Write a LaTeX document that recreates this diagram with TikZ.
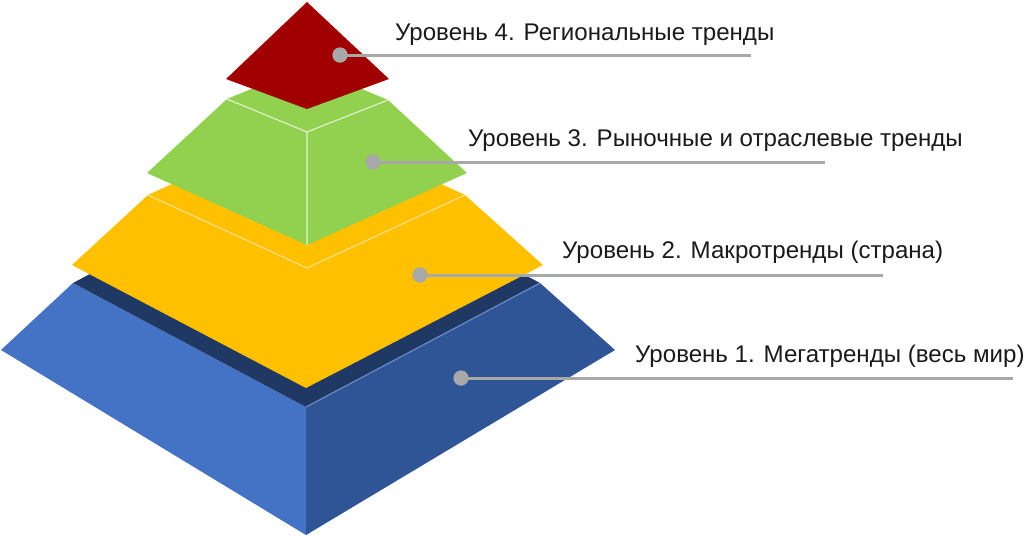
\documentclass[tikz,border=0pt]{standalone}
\usepackage{fontspec}
\setmainfont{Liberation Sans}
\definecolor{blueL}{HTML}{4472C4}
\definecolor{blueR}{HTML}{2F5597}
\definecolor{blueTop}{HTML}{1F3864}
\definecolor{blueEdge}{HTML}{6F8FCB}
\definecolor{yel}{HTML}{FFC000}
\definecolor{yelEdge}{HTML}{FFE08C}
\definecolor{grn}{HTML}{92D050}
\definecolor{grnEdge}{HTML}{E2F3D2}
\definecolor{redT}{HTML}{A00000}
\definecolor{dotgray}{HTML}{A8A8A8}
\definecolor{txt}{HTML}{1A1A1A}
\begin{document}
\begin{tikzpicture}[x=1pt,y=-1pt,
  lbl/.style={anchor=base west, text=txt, font=\fontsize{24.1}{28}\selectfont, inner sep=0pt},
  dotnode/.style={circle, fill=dotgray, draw=none, minimum size=15pt, inner sep=0pt},
  leader/.style={draw=dotgray, line width=3pt},
  ridge/.style={line width=1.1pt}]
\useasboundingbox (0,0) rectangle (1024,536);
% blue layer
\coordinate (bL) at (1,350);
\coordinate (bTL) at (73,283);
\coordinate (bK) at (306,159);
\coordinate (bTR) at (540,283);
\coordinate (bR) at (615,350);
\coordinate (bB) at (306,535);
\coordinate (bF) at (306,407);
\fill[blueL] (bL)--(bTL)--(bF)--(bB)--cycle;
\fill[blueR] (bF)--(bTR)--(bR)--(bB)--cycle;
\fill[blueTop] (bTL)--(bK)--(bTR)--(bF)--cycle;
\draw[ridge, blueEdge] (bF)--(bTR);
% yellow layer
\coordinate (yL) at (72,265);
\coordinate (yTL) at (148,195);
\coordinate (yK) at (307,122);
\coordinate (yTR) at (465,195);
\coordinate (yR) at (543,265);
\coordinate (yB) at (306,388);
\coordinate (yF) at (307,268);
\fill[yel] (yL)--(yTL)--(yK)--(yTR)--(yR)--(yB)--cycle;
\draw[ridge, yelEdge] (yTL)--(yF)--(yTR);
% green layer
\coordinate (gL) at (147,173);
\coordinate (gTL) at (227,99);
\coordinate (gK) at (307,66);
\coordinate (gTR) at (388,100);
\coordinate (gR) at (467,173);
\coordinate (gB) at (307,245);
\coordinate (gF) at (307,132);
\fill[grn] (gL)--(gTL)--(gK)--(gTR)--(gR)--(gB)--cycle;
\draw[ridge, grnEdge] (gTL)--(gF)--(gTR) (gF)--(gB);
% red top
\coordinate (rT) at (307,2);
\coordinate (rL) at (226,79);
\coordinate (rR) at (389,79);
\coordinate (rB) at (307,109);
\fill[redT] (rT)--(rR)--(rB)--(rL)--cycle;
% leaders
\node[dotnode] (d4) at (340,55) {};
\node[dotnode] (d3) at (373,162) {};
\node[dotnode] (d2) at (420,275) {};
\node[dotnode] (d1) at (461,378) {};
\coordinate (e4) at (751,55);
\coordinate (e3) at (825,162);
\coordinate (e2) at (883,275);
\coordinate (e1) at (1013,378);
\draw[leader] (d4.center)--(e4);
\draw[leader] (d3.center)--(e3);
\draw[leader] (d2.center)--(e2);
\draw[leader] (d1.center)--(e1);
\node[dotnode] at (d4) {};
\node[dotnode] at (d3) {};
\node[dotnode] at (d2) {};
\node[dotnode] at (d1) {};
% labels
\node[lbl] (t4) at (395,40) {Уровень 4. Региональные тренды};
\node[lbl] (t3) at (468,146) {Уровень 3. Рыночные и отраслевые тренды};
\node[lbl] (t2) at (562,258) {Уровень 2. Макротренды (страна)};
\node[lbl] (t1) at (635,362) {Уровень 1. Мегатренды (весь мир)};
\end{tikzpicture}
\end{document}
